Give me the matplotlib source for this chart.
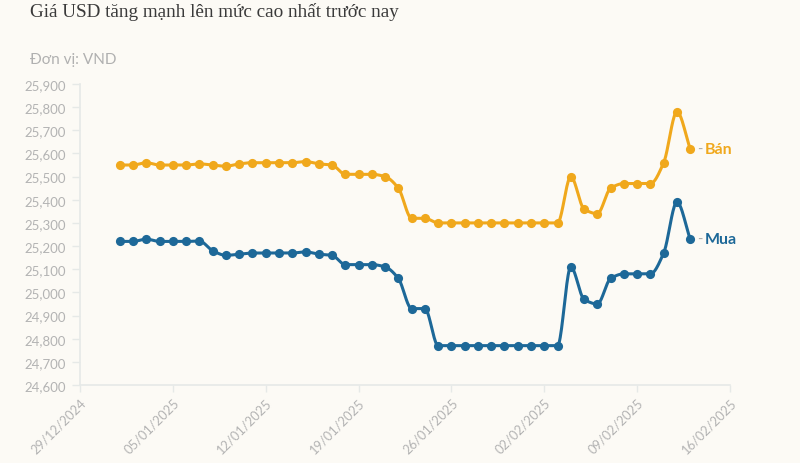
import numpy as np
import matplotlib
matplotlib.use("Agg")
import matplotlib.pyplot as plt
import matplotlib.dates as mdates
from matplotlib.ticker import FixedLocator, FuncFormatter
import datetime as dt

# ---------------- data ----------------
start_date = "2025-01-01"
n_days = 44
ban = [25550, 25550, 25560, 25550, 25550, 25550, 25555, 25550, 25545, 25555,
       25560, 25560, 25560, 25560, 25565, 25555, 25550, 25510, 25510, 25510,
       25500, 25450, 25320, 25320, 25300, 25300, 25300, 25300, 25300, 25300,
       25300, 25300, 25300, 25300, 25500, 25360, 25340, 25450, 25470, 25470,
       25470, 25560, 25780, 25620]
mua = [25220, 25220, 25230, 25220, 25220, 25220, 25222, 25180, 25160, 25165,
       25170, 25170, 25170, 25170, 25175, 25165, 25160, 25120, 25120, 25120,
       25110, 25060, 24930, 24930, 24770, 24770, 24770, 24770, 24770, 24770,
       24770, 24770, 24770, 24770, 25110, 24970, 24950, 25060, 25080, 25080,
       25080, 25170, 25390, 25230]
x_tick_labels = ["29/12/2024", "05/01/2025", "12/01/2025", "19/01/2025",
                 "26/01/2025", "02/02/2025", "09/02/2025", "16/02/2025"]
y_ticks = [24600, 24700, 24800, 24900, 25000, 25100, 25200, 25300, 25400,
           25500, 25600, 25700, 25800, 25900]
series_names = ["Bán", "Mua"]
title = "Giá USD tăng mạnh lên mức cao nhất trước nay"
unit = "Đơn vị: VND"

# ---------------- style ----------------
BG = "#fcfaf5"
ORANGE = "#f0a81c"
BLUE = "#1d6898"
AXIS = "#e6e9e7"
TICKTXT = "#b3b3b3"

d0 = dt.datetime.strptime(start_date, "%Y-%m-%d")
dates = [d0 + dt.timedelta(days=i) for i in range(n_days)]
xnum = mdates.date2num(dates)
tick_dates = [dt.datetime.strptime(s, "%d/%m/%Y") for s in x_tick_labels]
tick_num = mdates.date2num(tick_dates)


def monotone_curve(x, y, n=20):
    x = np.asarray(x, float)
    y = np.asarray(y, float)
    h = np.diff(x)
    d = np.diff(y) / h
    m = np.zeros_like(y)
    m[0] = d[0]
    m[-1] = d[-1]
    for i in range(1, len(y) - 1):
        if d[i - 1] * d[i] <= 0:
            m[i] = 0
        else:
            w1 = 2 * h[i] + h[i - 1]
            w2 = h[i] + 2 * h[i - 1]
            m[i] = (w1 + w2) / (w1 / d[i - 1] + w2 / d[i])
    xs, ys = [], []
    for i in range(len(x) - 1):
        t = np.linspace(0, 1, n, endpoint=False)
        h00 = 2 * t**3 - 3 * t**2 + 1
        h10 = t**3 - 2 * t**2 + t
        h01 = -2 * t**3 + 3 * t**2
        h11 = t**3 - t**2
        xs.append(x[i] + t * h[i])
        ys.append(h00 * y[i] + h10 * h[i] * m[i] + h01 * y[i + 1] + h11 * h[i] * m[i + 1])
    xs.append([x[-1]])
    ys.append([y[-1]])
    return np.concatenate(xs), np.concatenate(ys)


plt.rcParams["font.family"] = ["Lato", "DejaVu Sans"]

fig = plt.figure(figsize=(8, 4.64), dpi=100)
fig.patch.set_facecolor(BG)
ax = fig.add_axes([80 / 800, 1 - 386 / 464, 650 / 800, 301 / 464])
ax.set_facecolor(BG)

for vals, col in [(ban, ORANGE), (mua, BLUE)]:
    cx, cy = monotone_curve(xnum, vals)
    ax.plot(cx, cy, color=col, lw=2.2, solid_capstyle="round", zorder=3)
    ax.plot(xnum, vals, "o", color=col, ms=6.6, mew=0, zorder=4)

ax.set_xlim(tick_num[0], tick_num[-1])
ax.set_ylim(y_ticks[0], y_ticks[-1])

ax.yaxis.set_major_locator(FixedLocator(y_ticks))
ax.yaxis.set_major_formatter(FuncFormatter(lambda v, p: f"{int(v):,}"))
ax.xaxis.set_major_locator(FixedLocator(tick_num))
ax.set_xticklabels(x_tick_labels, rotation=45, ha="right", va="top",
                   rotation_mode="anchor")

for s in ["top", "right"]:
    ax.spines[s].set_visible(False)
for s in ["left", "bottom"]:
    ax.spines[s].set_color(AXIS)
    ax.spines[s].set_linewidth(1.2)

ax.tick_params(axis="y", length=6, width=1, color=AXIS, labelcolor=TICKTXT,
               labelsize=9.5, pad=4)
ax.tick_params(axis="x", length=5, width=1, color=AXIS, labelcolor=TICKTXT,
               labelsize=9.3, pad=3)

# end labels
for vals, col, name in [(ban, ORANGE, series_names[0]), (mua, BLUE, series_names[1])]:
    ax.annotate("-", xy=(xnum[-1], vals[-1]), xytext=(5, 0), textcoords="offset points",
                color="#aaaaaa", fontsize=10.5, va="center", ha="left", annotation_clip=False)
    ax.annotate(name, xy=(xnum[-1], vals[-1]), xytext=(10.5, 0), textcoords="offset points",
                color=col, fontsize=11.5, fontweight="bold", va="center", ha="left",
                annotation_clip=False)

fig.text(30 / 800, 1 - 12 / 464, title, family=["Liberation Serif", "DejaVu Serif"],
         fontsize=13.8, color="#3a3a3a", va="center", ha="left")
fig.text(30 / 800, 1 - 60 / 464, unit, fontsize=11, color="#b0b0b0",
         va="center", ha="left")

fig.savefig("out.png", dpi=100, facecolor=BG)
